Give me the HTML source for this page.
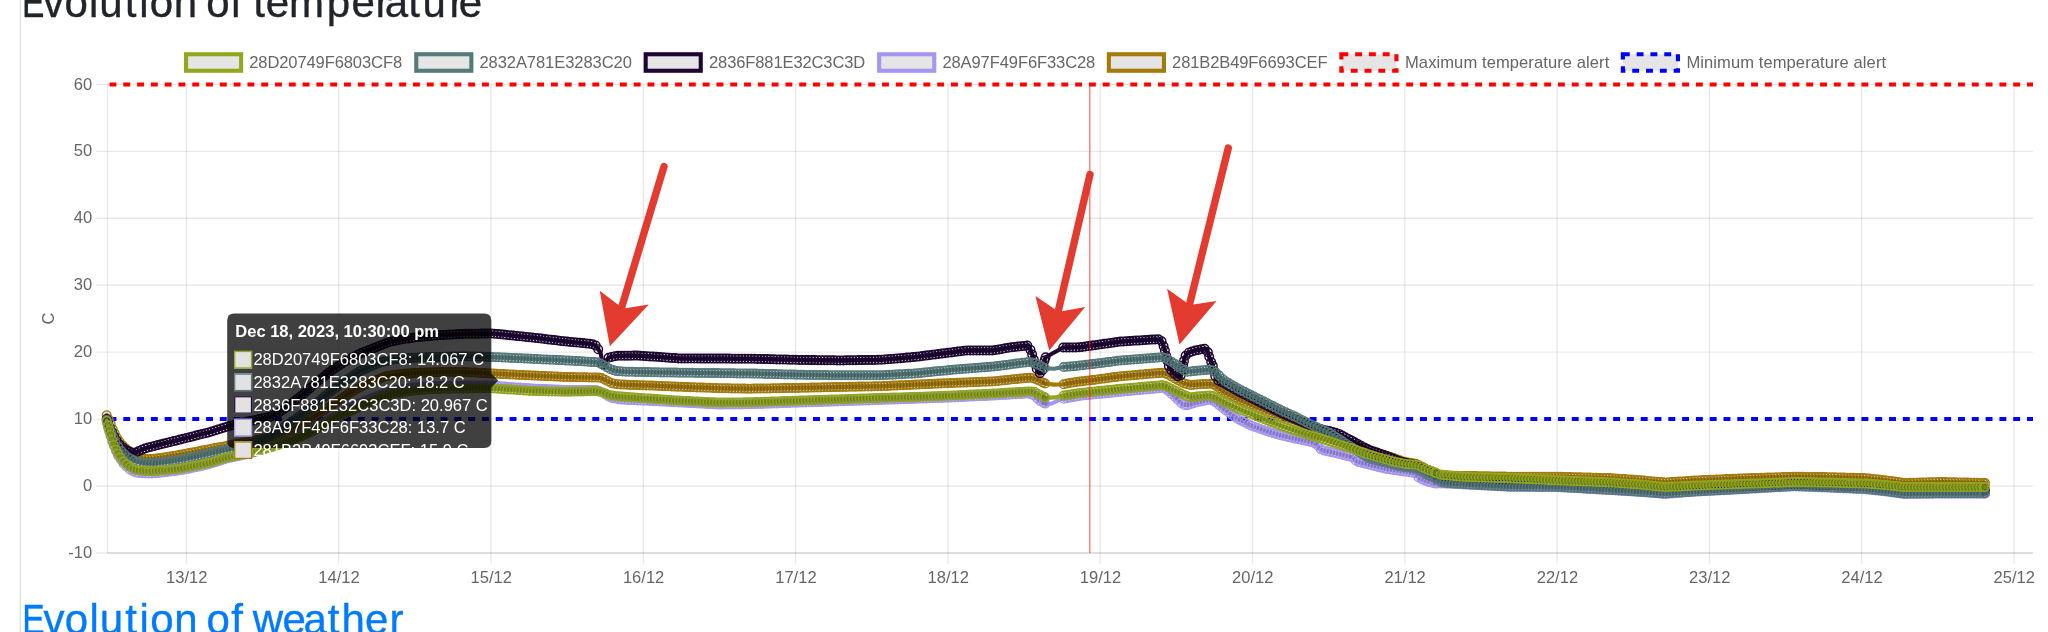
<!DOCTYPE html>
<html lang="en"><head><meta charset="utf-8"><title>Evolution of temperature</title>
<style>
html,body{margin:0;padding:0;background:#fff;}
body{width:2048px;height:632px;overflow:hidden;position:relative;font-family:"Liberation Sans",sans-serif;}
svg{position:absolute;left:0;top:0;display:block;will-change:transform;}
svg text{font-family:"Liberation Sans",sans-serif;}
.h{position:absolute;margin:0;white-space:nowrap;font-weight:400;font-family:"Liberation Sans",sans-serif;line-height:1;will-change:transform;}
</style></head><body>
<svg width="2048" height="632" viewBox="0 0 2048 632">
<defs>
<marker id="m_green" markerUnits="userSpaceOnUse" markerWidth="12" markerHeight="12" refX="6" refY="6" viewBox="0 0 12 12" overflow="visible"><circle cx="6" cy="6" r="4.3" fill="#000" fill-opacity="0.1" stroke="#93a71d" stroke-width="1.38"/></marker>
<marker id="m_teal" markerUnits="userSpaceOnUse" markerWidth="12" markerHeight="12" refX="6" refY="6" viewBox="0 0 12 12" overflow="visible"><circle cx="6" cy="6" r="4.3" fill="#000" fill-opacity="0.1" stroke="#567a7c" stroke-width="1.38"/></marker>
<marker id="m_dark" markerUnits="userSpaceOnUse" markerWidth="12" markerHeight="12" refX="6" refY="6" viewBox="0 0 12 12" overflow="visible"><circle cx="6" cy="6" r="4.3" fill="#000" fill-opacity="0.1" stroke="#1e0533" stroke-width="1.38"/></marker>
<marker id="m_lav" markerUnits="userSpaceOnUse" markerWidth="12" markerHeight="12" refX="6" refY="6" viewBox="0 0 12 12" overflow="visible"><circle cx="6" cy="6" r="4.3" fill="#000" fill-opacity="0.1" stroke="#a795f4" stroke-width="1.38"/></marker>
<marker id="m_gold" markerUnits="userSpaceOnUse" markerWidth="12" markerHeight="12" refX="6" refY="6" viewBox="0 0 12 12" overflow="visible"><circle cx="6" cy="6" r="4.3" fill="#000" fill-opacity="0.1" stroke="#a67a0a" stroke-width="1.38"/></marker>
<clipPath id="tipclip"><rect x="227.2" y="313.4" width="264.1" height="134.7"/></clipPath>
</defs>
<rect x="19.6" y="0" width="1.3" height="632" fill="#dedede"/>
<g stroke="#000" stroke-opacity="0.088" stroke-width="1.4" fill="none">
<line x1="96.3" y1="84.4" x2="2033.0" y2="84.4"/>
<line x1="96.3" y1="151.35" x2="2033.0" y2="151.35"/>
<line x1="96.3" y1="218.3" x2="2033.0" y2="218.3"/>
<line x1="96.3" y1="285.2" x2="2033.0" y2="285.2"/>
<line x1="96.3" y1="352.15" x2="2033.0" y2="352.15"/>
<line x1="96.3" y1="419.1" x2="2033.0" y2="419.1"/>
<line x1="96.3" y1="486.0" x2="2033.0" y2="486.0"/>
<line x1="96.3" y1="553.0" x2="2033.0" y2="553.0"/>
<line x1="186.4" y1="84.4" x2="186.4" y2="563.8"/>
<line x1="338.7" y1="84.4" x2="338.7" y2="563.8"/>
<line x1="491.0" y1="84.4" x2="491.0" y2="563.8"/>
<line x1="643.3" y1="84.4" x2="643.3" y2="563.8"/>
<line x1="795.6" y1="84.4" x2="795.6" y2="563.8"/>
<line x1="947.9" y1="84.4" x2="947.9" y2="563.8"/>
<line x1="1100.2" y1="84.4" x2="1100.2" y2="563.8"/>
<line x1="1252.5" y1="84.4" x2="1252.5" y2="563.8"/>
<line x1="1404.8" y1="84.4" x2="1404.8" y2="563.8"/>
<line x1="1557.1" y1="84.4" x2="1557.1" y2="563.8"/>
<line x1="1709.4" y1="84.4" x2="1709.4" y2="563.8"/>
<line x1="1861.7" y1="84.4" x2="1861.7" y2="563.8"/>
<line x1="2014.0" y1="84.4" x2="2014.0" y2="563.8"/>
</g>
<line x1="107.5" y1="84.4" x2="107.5" y2="553.0" stroke="#000" stroke-opacity="0.08" stroke-width="1.4"/>
<line x1="107.5" y1="553.0" x2="2033.0" y2="553.0" stroke="#000" stroke-opacity="0.1" stroke-width="1.4"/>
<line x1="109.5" y1="419.0" x2="2033.0" y2="419.0" stroke="#0000ff" stroke-width="4.2" stroke-dasharray="6.9 6.895"/>
<line x1="109.5" y1="84.5" x2="2033.0" y2="84.5" stroke="#ff0000" stroke-width="4.2" stroke-dasharray="6.9 6.895"/>
<polyline points="106.7,415.2 109.0,420.0 113.0,430.0 118.0,440.0 124.0,447.0 130.0,452.0 136.0,456.0 142.0,458.7 153.0,459.0 170.0,456.5 190.0,453.0 210.0,449.0 232.0,444.9 255.0,440.5 277.0,435.5 290.0,430.0 302.0,424.0 314.9,416.0 330.0,406.5 349.4,393.0 365.0,384.5 386.6,376.0 403.0,373.8 420.0,372.8 441.0,372.0 465.0,372.0 492.0,373.5 532.0,375.5 567.0,377.0 597.0,377.5 601.3,377.8 606.0,380.3 611.0,382.8 615.5,384.0 625.0,384.7 650.0,385.5 680.0,386.8 720.0,388.2 750.0,388.7 802.0,387.8 840.0,387.0 880.0,386.2 950.0,383.1 993.0,381.4 1029.0,377.7 1034.0,378.3 1040.0,381.0 1045.0,383.5 1054.0,384.6 1063.7,384.3 1070.0,383.0 1080.0,381.5 1090.0,380.4 1121.0,376.2 1162.0,372.8 1166.0,373.5 1175.0,378.5 1183.0,383.0 1190.0,385.1 1200.0,384.3 1209.6,383.7 1214.0,384.5 1224.2,392.0 1238.5,399.3 1252.5,405.3 1267.0,411.3 1281.2,417.3 1295.5,422.8 1309.7,427.8 1324.0,432.8 1338.2,438.3 1352.0,444.0 1373.0,451.5 1393.5,458.0 1405.0,462.0 1415.5,463.6 1421.0,466.0 1426.6,469.4 1435.4,472.7 1438.5,474.8 1442.0,475.4 1445.0,475.6 1510.0,476.7 1557.0,476.7 1611.7,478.2 1640.0,480.2 1664.6,482.5 1680.0,481.5 1695.0,480.5 1740.0,478.5 1795.0,476.7 1830.0,477.2 1866.0,478.2 1885.0,480.2 1904.0,483.0 1942.0,482.0 1985.0,483.0" fill="none" stroke="#a67a0a" stroke-width="4.14" stroke-linejoin="round" stroke-linecap="round"/>
<polyline points="106.7,415.2 108.7,419.4 110.8,424.4 112.8,429.5 114.8,433.6 116.9,437.7 119.4,441.6 122.6,445.3 125.7,448.4 128.9,451.1 132.1,453.4 135.3,455.5 138.4,457.1 141.6,458.5 144.8,458.8 147.9,458.9 151.1,458.9 154.3,458.8 157.5,458.3 160.6,457.9 163.8,457.4 167.0,456.9 170.2,456.5 173.3,455.9 176.5,455.4 179.7,454.8 182.9,454.3 186.0,453.7 189.2,453.1 192.4,452.5 195.5,451.9 198.7,451.3 201.9,450.6 205.1,450.0 208.2,449.4 211.4,448.7 214.6,448.1 217.8,447.6 220.9,447.0 224.1,446.4 227.3,445.8 230.4,445.2 233.6,444.6 236.8,444.0 240.0,443.4 243.1,442.8 246.3,442.2 249.5,441.6 252.7,440.9 255.8,440.3 259.0,439.6 262.2,438.9 265.4,438.1 268.5,437.4 271.7,436.7 274.9,436.0 278.0,435.1 281.2,433.7 284.4,432.4 287.6,431.0 290.7,429.6 293.9,428.0 297.1,426.5 300.3,424.9 303.4,423.1 306.6,421.1 309.8,419.2 312.9,417.2 316.1,415.2 319.3,413.2 322.5,411.2 325.6,409.2 328.8,407.2 332.0,405.1 335.2,402.9 338.3,400.7 341.5,398.5 344.7,396.3 347.8,394.1 351.0,392.1 354.2,390.4 357.4,388.7 360.5,386.9 363.7,385.2 366.9,383.8 370.1,382.5 373.2,381.3 376.4,380.0 379.6,378.8 382.8,377.5 385.9,376.3 389.1,375.7 392.3,375.2 395.4,374.8 398.6,374.4 401.8,374.0 405.0,373.7 408.1,373.5 411.3,373.3 414.5,373.1 417.7,372.9 420.8,372.8 424.0,372.6 427.2,372.5 430.3,372.4 433.5,372.3 436.7,372.2 439.9,372.0 443.0,372.0 446.2,372.0 449.4,372.0 452.6,372.0 455.7,372.0 458.9,372.0 462.1,372.0 465.2,372.0 468.4,372.2 471.6,372.4 474.8,372.5 477.9,372.7 481.1,372.9 484.3,373.1 487.5,373.2 490.6,373.4 493.8,373.6 497.0,373.7 500.2,373.9 503.3,374.1 506.5,374.2 509.7,374.4 512.8,374.5 516.0,374.7 519.2,374.9 522.4,375.0 525.5,375.2 528.7,375.3 531.9,375.5 535.1,375.6 538.2,375.8 541.4,375.9 544.6,376.0 547.7,376.2 550.9,376.3 554.1,376.4 557.3,376.6 560.4,376.7 563.6,376.9 566.8,377.0 570.0,377.0 573.1,377.1 576.3,377.2 579.5,377.2 582.7,377.3 585.8,377.3 589.0,377.4 592.2,377.4 595.3,377.5 598.5,377.6 601.7,378.0 604.9,379.7 608.0,381.3 611.2,382.9 614.4,383.7 617.6,384.2 620.7,384.4 623.9,384.6 627.1,384.8 630.2,384.9 633.4,385.0 636.6,385.1 639.8,385.2 642.9,385.3 646.1,385.4 649.3,385.5 652.5,385.6 655.6,385.7 658.8,385.9 662.0,386.0 665.1,386.2 668.3,386.3 671.5,386.4 674.7,386.6 677.8,386.7 681.0,386.8 684.2,386.9 687.4,387.1 690.5,387.2 693.7,387.3 696.9,387.4 700.1,387.5 703.2,387.6 706.4,387.7 709.6,387.8 712.7,387.9 715.9,388.1 719.1,388.2 722.3,388.2 725.4,388.3 728.6,388.3 731.8,388.4 735.0,388.4 738.1,388.5 741.3,388.6 744.5,388.6 747.6,388.7 750.8,388.7 754.0,388.6 757.2,388.6 760.3,388.5 763.5,388.5 766.7,388.4 769.9,388.4 773.0,388.3 776.2,388.2 779.4,388.2 782.5,388.1 785.7,388.1 788.9,388.0 792.1,388.0 795.2,387.9 798.4,387.9 801.6,387.8 804.8,387.7 807.9,387.7 811.1,387.6 814.3,387.5 817.5,387.5 820.6,387.4 823.8,387.3 827.0,387.3 830.1,387.2 833.3,387.1 836.5,387.1 839.7,387.0 842.8,386.9 846.0,386.9 849.2,386.8 852.4,386.8 855.5,386.7 858.7,386.6 861.9,386.6 865.0,386.5 868.2,386.4 871.4,386.4 874.6,386.3 877.7,386.2 880.9,386.2 884.1,386.0 887.3,385.9 890.4,385.7 893.6,385.6 896.8,385.5 900.0,385.3 903.1,385.2 906.3,385.0 909.5,384.9 912.6,384.8 915.8,384.6 919.0,384.5 922.2,384.3 925.3,384.2 928.5,384.1 931.7,383.9 934.9,383.8 938.0,383.6 941.2,383.5 944.4,383.3 947.5,383.2 950.7,383.1 953.9,382.9 957.1,382.8 960.2,382.7 963.4,382.6 966.6,382.4 969.8,382.3 972.9,382.2 976.1,382.1 979.3,381.9 982.4,381.8 985.6,381.7 988.8,381.6 992.0,381.4 995.1,381.2 998.3,380.9 1001.5,380.5 1004.7,380.2 1007.8,379.9 1011.0,379.5 1014.2,379.2 1017.4,378.9 1020.5,378.6 1023.7,378.2 1026.9,377.9 1030.0,377.8 1033.2,378.2 1036.4,379.4 1039.6,380.8 1042.7,382.4 1045.2,383.5" fill="none" stroke="none" marker-start="url(#m_gold)" marker-mid="url(#m_gold)" marker-end="url(#m_gold)"/>
<polyline points="1063.7,384.3 1066.9,383.6 1070.0,383.0 1073.2,382.5 1076.4,382.0 1079.6,381.6 1082.7,381.2 1085.9,380.8 1089.1,380.5 1092.3,380.1 1095.4,379.7 1098.6,379.2 1101.8,378.8 1104.9,378.4 1108.1,377.9 1111.3,377.5 1114.5,377.1 1117.6,376.7 1120.8,376.2 1124.0,376.0 1127.2,375.7 1130.3,375.4 1133.5,375.2 1136.7,374.9 1139.9,374.6 1143.0,374.4 1146.2,374.1 1149.4,373.8 1152.5,373.6 1155.7,373.3 1158.9,373.1 1162.1,372.8 1165.2,373.4 1168.4,374.8 1171.6,376.6 1174.8,378.4 1177.9,380.1 1181.1,381.9 1184.3,383.4 1187.4,384.3 1190.6,385.1 1193.8,384.8 1197.0,384.5 1200.1,384.3 1203.3,384.1 1206.5,383.9 1209.7,383.7 1212.8,384.3 1216.0,386.0 1219.2,388.3 1222.4,390.6 1225.5,392.7 1228.7,394.3 1231.9,395.9 1235.0,397.5 1238.2,399.2 1241.4,400.5 1244.6,401.9 1247.7,403.3 1250.9,404.6 1254.1,406.0 1257.3,407.3 1260.4,408.6 1263.6,409.9 1266.8,411.2 1269.9,412.5 1273.1,413.9 1276.3,415.2 1279.5,416.6 1282.6,417.9 1285.8,419.1 1289.0,420.3 1292.2,421.5 1295.3,422.7 1298.5,423.9 1301.7,425.0 1304.8,426.1 1308.0,427.2 1311.2,428.3 1314.4,429.4 1317.5,430.5 1320.7,431.7 1323.9,432.8 1327.1,434.0 1330.2,435.2 1333.4,436.4 1336.6,437.7 1339.8,438.9 1342.9,440.3 1346.1,441.6 1349.3,442.9 1352.4,444.2 1355.6,445.3 1358.8,446.4 1362.0,447.6 1365.1,448.7 1368.3,449.8 1371.5,451.0 1374.7,452.0 1377.8,453.0 1381.0,454.0 1384.2,455.0 1387.3,456.0 1390.5,457.1 1393.7,458.1 1396.9,459.2 1400.0,460.3 1403.2,461.4 1406.4,462.2 1409.6,462.7 1412.7,463.2 1415.9,463.8 1419.1,465.2 1422.2,466.8 1425.4,468.7 1428.6,470.1 1431.8,471.3 1434.9,472.5 1436.4,473.4" fill="none" stroke="none" marker-start="url(#m_gold)" marker-mid="url(#m_gold)" marker-end="url(#m_gold)"/>
<polyline points="1440.8,475.2 1444.0,475.5 1447.1,475.6 1450.3,475.7 1453.5,475.7 1456.7,475.8 1459.8,475.9 1463.0,475.9 1466.2,476.0 1469.4,476.0 1472.5,476.1 1475.7,476.1 1478.9,476.2 1482.0,476.2 1485.2,476.3 1488.4,476.3 1491.6,476.4 1494.7,476.4 1497.9,476.5 1501.1,476.5 1504.3,476.6 1507.4,476.7 1510.6,476.7 1513.8,476.7 1517.0,476.7 1520.1,476.7 1523.3,476.7 1526.5,476.7 1529.6,476.7 1532.8,476.7 1536.0,476.7 1539.2,476.7 1542.3,476.7 1545.5,476.7 1548.7,476.7 1551.9,476.7 1555.0,476.7 1558.2,476.7 1561.4,476.8 1564.5,476.9 1567.7,477.0 1570.9,477.1 1574.1,477.2 1577.2,477.3 1580.4,477.3 1583.6,477.4 1586.8,477.5 1589.9,477.6 1593.1,477.7 1596.3,477.8 1599.5,477.9 1602.6,478.0 1605.8,478.0 1609.0,478.1 1612.1,478.2 1615.3,478.5 1618.5,478.7 1621.7,478.9 1624.8,479.1 1628.0,479.4 1631.2,479.6 1634.4,479.8 1637.5,480.0 1640.7,480.3 1643.9,480.6 1647.0,480.9 1650.2,481.2 1653.4,481.5 1656.6,481.7 1659.7,482.0 1662.9,482.3 1666.1,482.4 1669.3,482.2 1672.4,482.0 1675.6,481.8 1678.8,481.6 1681.9,481.4 1685.1,481.2 1688.3,480.9 1691.5,480.7 1694.6,480.5 1697.8,480.4 1701.0,480.2 1704.2,480.1 1707.3,480.0 1710.5,479.8 1713.7,479.7 1716.9,479.5 1720.0,479.4 1723.2,479.2 1726.4,479.1 1729.5,479.0 1732.7,478.8 1735.9,478.7 1739.1,478.5 1742.2,478.4 1745.4,478.3 1748.6,478.2 1751.8,478.1 1754.9,478.0 1758.1,477.9 1761.3,477.8 1764.4,477.7 1767.6,477.6 1770.8,477.5 1774.0,477.4 1777.1,477.3 1780.3,477.2 1783.5,477.1 1786.7,477.0 1789.8,476.9 1793.0,476.8 1796.2,476.7 1799.3,476.8 1802.5,476.8 1805.7,476.9 1808.9,476.9 1812.0,476.9 1815.2,477.0 1818.4,477.0 1821.6,477.1 1824.7,477.1 1827.9,477.2 1831.1,477.2 1834.3,477.3 1837.4,477.4 1840.6,477.5 1843.8,477.6 1846.9,477.7 1850.1,477.8 1853.3,477.8 1856.5,477.9 1859.6,478.0 1862.8,478.1 1866.0,478.2 1869.2,478.5 1872.3,478.9 1875.5,479.2 1878.7,479.5 1881.8,479.9 1885.0,480.2 1888.2,480.7 1891.4,481.1 1894.5,481.6 1897.7,482.1 1900.9,482.5 1904.1,483.0 1907.2,482.9 1910.4,482.8 1913.6,482.7 1916.8,482.7 1919.9,482.6 1923.1,482.5 1926.3,482.4 1929.4,482.3 1932.6,482.2 1935.8,482.2 1939.0,482.1 1942.1,482.0 1945.3,482.1 1948.5,482.2 1951.7,482.2 1954.8,482.3 1958.0,482.4 1961.2,482.4 1964.3,482.5 1967.5,482.6 1970.7,482.7 1973.9,482.7 1977.0,482.8 1980.2,482.9 1983.4,483.0 1985.0,483.0" fill="none" stroke="none" marker-start="url(#m_gold)" marker-mid="url(#m_gold)" marker-end="url(#m_gold)"/>
<polyline points="106.7,423.0 112.0,441.0 118.0,455.5 124.0,464.3 130.0,469.7 136.0,472.6 145.0,473.5 153.0,473.4 165.0,472.3 181.5,470.2 195.0,467.4 210.0,464.0 226.0,458.8 250.0,453.5 271.0,447.0 285.0,442.0 295.4,437.5 310.0,430.5 325.0,422.0 340.6,413.0 355.0,405.5 370.9,398.5 381.2,394.8 395.0,390.5 410.0,388.0 433.0,386.3 471.0,385.5 491.0,385.5 532.0,388.5 567.0,390.0 597.0,390.0 603.0,393.0 610.0,397.5 620.0,399.5 640.0,400.5 680.0,402.5 720.0,404.6 750.0,404.3 802.0,402.5 880.0,400.0 950.0,397.6 993.0,395.6 1028.0,393.5 1033.0,394.5 1040.0,401.0 1046.0,404.0 1052.0,403.5 1060.0,399.5 1080.0,395.8 1121.0,391.8 1162.0,388.0 1166.0,389.0 1175.0,397.0 1183.0,404.7 1187.0,405.3 1198.0,402.0 1209.6,399.5 1214.0,401.0 1224.2,409.3 1238.5,419.5 1252.5,426.2 1267.0,431.2 1281.2,435.5 1295.5,438.7 1309.7,441.7 1316.5,443.7 1319.3,448.5 1324.0,450.6 1337.5,453.5 1353.3,457.5 1356.5,461.5 1369.0,464.7 1385.0,468.6 1400.8,471.0 1416.6,473.4 1419.0,478.3 1427.7,481.6 1435.6,483.6 1442.0,483.4 1470.0,484.8 1510.0,486.9 1557.0,487.2 1611.7,490.3 1640.0,492.0 1664.6,494.0 1680.0,492.9 1695.0,491.8 1740.0,489.4 1770.0,487.7 1795.0,486.4 1830.0,487.7 1866.0,489.4 1885.0,491.4 1904.0,494.0 1942.0,493.7 1985.0,493.7" fill="none" stroke="#a795f4" stroke-width="4.14" stroke-linejoin="round" stroke-linecap="round"/>
<polyline points="106.7,423.0 108.0,427.4 109.3,431.8 110.6,436.2 112.2,441.5 114.3,446.4 116.3,451.4 118.3,456.0 120.9,459.7 123.4,463.4 126.6,466.6 129.7,469.5 132.9,471.1 136.1,472.6 139.3,472.9 142.4,473.2 145.6,473.5 148.8,473.5 151.9,473.4 155.1,473.2 158.3,472.9 161.5,472.6 164.6,472.3 167.8,471.9 171.0,471.5 174.2,471.1 177.3,470.7 180.5,470.3 183.7,469.7 186.9,469.1 190.0,468.4 193.2,467.8 196.4,467.1 199.5,466.4 202.7,465.7 205.9,464.9 209.1,464.2 212.2,463.3 215.4,462.2 218.6,461.2 221.8,460.2 224.9,459.1 228.1,458.3 231.3,457.6 234.4,456.9 237.6,456.2 240.8,455.5 244.0,454.8 247.1,454.1 250.3,453.4 253.5,452.4 256.7,451.4 259.8,450.5 263.0,449.5 266.2,448.5 269.4,447.5 272.5,446.5 275.7,445.3 278.9,444.2 282.0,443.1 285.2,441.9 288.4,440.5 291.6,439.2 294.7,437.8 297.9,436.3 301.1,434.8 304.3,433.3 307.4,431.7 310.6,430.2 313.8,428.4 316.9,426.6 320.1,424.8 323.3,423.0 326.5,421.2 329.6,419.3 332.8,417.5 336.0,415.7 339.2,413.8 342.3,412.1 345.5,410.4 348.7,408.8 351.8,407.1 355.0,405.5 358.2,404.1 361.4,402.7 364.5,401.3 367.7,399.9 370.9,398.5 374.1,397.4 377.2,396.2 380.4,395.1 383.6,394.1 386.8,393.1 389.9,392.1 393.1,391.1 396.3,390.3 399.4,389.8 402.6,389.2 405.8,388.7 409.0,388.2 412.1,387.8 415.3,387.6 418.5,387.4 421.7,387.1 424.8,386.9 428.0,386.7 431.2,386.4 434.3,386.3 437.5,386.2 440.7,386.1 443.9,386.1 447.0,386.0 450.2,385.9 453.4,385.9 456.6,385.8 459.7,385.7 462.9,385.7 466.1,385.6 469.2,385.5 472.4,385.5 475.6,385.5 478.8,385.5 481.9,385.5 485.1,385.5 488.3,385.5 491.5,385.5 494.6,385.8 497.8,386.0 501.0,386.2 504.2,386.5 507.3,386.7 510.5,386.9 513.7,387.2 516.8,387.4 520.0,387.6 523.2,387.9 526.4,388.1 529.5,388.3 532.7,388.5 535.9,388.7 539.1,388.8 542.2,388.9 545.4,389.1 548.6,389.2 551.7,389.3 554.9,389.5 558.1,389.6 561.3,389.8 564.4,389.9 567.6,390.0 570.8,390.0 574.0,390.0 577.1,390.0 580.3,390.0 583.5,390.0 586.7,390.0 589.8,390.0 593.0,390.0 596.2,390.0 599.3,391.2 602.5,392.8 605.7,394.7 608.9,396.8 612.0,397.9 615.2,398.5 618.4,399.2 621.6,399.6 624.7,399.7 627.9,399.9 631.1,400.1 634.2,400.2 637.4,400.4 640.6,400.5 643.8,400.7 646.9,400.8 650.1,401.0 653.3,401.2 656.5,401.3 659.6,401.5 662.8,401.6 666.0,401.8 669.1,402.0 672.3,402.1 675.5,402.3 678.7,402.4 681.8,402.6 685.0,402.8 688.2,402.9 691.4,403.1 694.5,403.3 697.7,403.4 700.9,403.6 704.1,403.8 707.2,403.9 710.4,404.1 713.6,404.3 716.7,404.4 719.9,404.6 723.1,404.6 726.3,404.5 729.4,404.5 732.6,404.5 735.8,404.4 739.0,404.4 742.1,404.4 745.3,404.3 748.5,404.3 751.6,404.2 754.8,404.1 758.0,404.0 761.2,403.9 764.3,403.8 767.5,403.7 770.7,403.6 773.9,403.5 777.0,403.4 780.2,403.3 783.4,403.1 786.5,403.0 789.7,402.9 792.9,402.8 796.1,402.7 799.2,402.6 802.4,402.5 805.6,402.4 808.8,402.3 811.9,402.2 815.1,402.1 818.3,402.0 821.5,401.9 824.6,401.8 827.8,401.7 831.0,401.6 834.1,401.5 837.3,401.4 840.5,401.3 843.7,401.2 846.8,401.1 850.0,401.0 853.2,400.9 856.4,400.8 859.5,400.7 862.7,400.6 865.9,400.5 869.0,400.4 872.2,400.2 875.4,400.1 878.6,400.0 881.7,399.9 884.9,399.8 888.1,399.7 891.3,399.6 894.4,399.5 897.6,399.4 900.8,399.3 904.0,399.2 907.1,399.1 910.3,399.0 913.5,398.9 916.6,398.7 919.8,398.6 923.0,398.5 926.2,398.4 929.3,398.3 932.5,398.2 935.7,398.1 938.9,398.0 942.0,397.9 945.2,397.8 948.4,397.7 951.5,397.5 954.7,397.4 957.9,397.2 961.1,397.1 964.2,396.9 967.4,396.8 970.6,396.6 973.8,396.5 976.9,396.3 980.1,396.2 983.3,396.1 986.4,395.9 989.6,395.8 992.8,395.6 996.0,395.4 999.1,395.2 1002.3,395.0 1005.5,394.9 1008.7,394.7 1011.8,394.5 1015.0,394.3 1018.2,394.1 1021.4,393.9 1024.5,393.7 1027.7,393.5 1030.9,394.1 1034.0,395.5 1037.2,398.4 1040.4,401.2 1043.6,402.8 1045.2,403.6" fill="none" stroke="none" marker-start="url(#m_lav)" marker-mid="url(#m_lav)" marker-end="url(#m_lav)"/>
<polyline points="1063.7,398.8 1066.9,398.2 1070.0,397.6 1073.2,397.1 1076.4,396.5 1079.6,395.9 1082.7,395.5 1085.9,395.2 1089.1,394.9 1092.3,394.6 1095.4,394.3 1098.6,394.0 1101.8,393.7 1104.9,393.4 1108.1,393.1 1111.3,392.7 1114.5,392.4 1117.6,392.1 1120.8,391.8 1124.0,391.5 1127.2,391.2 1130.3,390.9 1133.5,390.6 1136.7,390.3 1139.9,390.1 1143.0,389.8 1146.2,389.5 1149.4,389.2 1152.5,388.9 1155.7,388.6 1158.9,388.3 1162.1,388.0 1165.2,388.8 1168.4,391.1 1171.6,394.0 1174.8,396.8 1177.9,399.8 1181.1,402.9 1184.3,404.9 1187.4,405.2 1190.6,404.2 1193.8,403.3 1197.0,402.3 1200.1,401.5 1203.3,400.9 1206.5,400.2 1209.7,399.5 1212.8,400.6 1216.0,402.6 1219.2,405.2 1222.4,407.8 1225.5,410.2 1228.7,412.5 1231.9,414.8 1235.0,417.0 1238.2,419.3 1241.4,420.9 1244.6,422.4 1247.7,423.9 1250.9,425.4 1254.1,426.7 1257.3,427.8 1260.4,428.9 1263.6,430.0 1266.8,431.1 1269.9,432.1 1273.1,433.1 1276.3,434.0 1279.5,435.0 1282.6,435.8 1285.8,436.5 1289.0,437.2 1292.2,438.0 1295.3,438.7 1298.5,439.3 1301.7,440.0 1304.8,440.7 1308.0,441.3 1311.2,442.1 1314.4,443.1 1317.5,445.5 1320.7,449.1 1323.9,450.5 1327.1,451.3 1330.2,451.9 1333.4,452.6 1336.6,453.3 1339.8,454.1 1342.9,454.9 1346.1,455.7 1349.3,456.5 1352.4,457.3 1355.6,460.4 1358.8,462.1 1362.0,462.9 1365.1,463.7 1368.3,464.5 1371.5,465.3 1374.7,466.1 1377.8,466.9 1381.0,467.6 1384.2,468.4 1387.3,469.0 1390.5,469.4 1393.7,469.9 1396.9,470.4 1400.0,470.9 1403.2,471.4 1406.4,471.8 1409.6,472.3 1412.7,472.8 1415.9,473.3 1418.4,477.2 1421.6,479.3 1424.8,480.5 1428.0,481.7 1431.1,482.5 1434.3,483.3 1436.4,483.6" fill="none" stroke="none" marker-start="url(#m_lav)" marker-mid="url(#m_lav)" marker-end="url(#m_lav)"/>
<polyline points="1440.8,483.4 1444.0,483.5 1447.1,483.7 1450.3,483.8 1453.5,484.0 1456.7,484.1 1459.8,484.3 1463.0,484.5 1466.2,484.6 1469.4,484.8 1472.5,484.9 1475.7,485.1 1478.9,485.3 1482.0,485.4 1485.2,485.6 1488.4,485.8 1491.6,485.9 1494.7,486.1 1497.9,486.3 1501.1,486.4 1504.3,486.6 1507.4,486.8 1510.6,486.9 1513.8,486.9 1517.0,486.9 1520.1,487.0 1523.3,487.0 1526.5,487.0 1529.6,487.0 1532.8,487.0 1536.0,487.1 1539.2,487.1 1542.3,487.1 1545.5,487.1 1548.7,487.1 1551.9,487.2 1555.0,487.2 1558.2,487.3 1561.4,487.4 1564.5,487.6 1567.7,487.8 1570.9,488.0 1574.1,488.2 1577.2,488.3 1580.4,488.5 1583.6,488.7 1586.8,488.9 1589.9,489.1 1593.1,489.2 1596.3,489.4 1599.5,489.6 1602.6,489.8 1605.8,490.0 1609.0,490.1 1612.1,490.3 1615.3,490.5 1618.5,490.7 1621.7,490.9 1624.8,491.1 1628.0,491.3 1631.2,491.5 1634.4,491.7 1637.5,491.9 1640.7,492.1 1643.9,492.3 1647.0,492.6 1650.2,492.8 1653.4,493.1 1656.6,493.3 1659.7,493.6 1662.9,493.9 1666.1,493.9 1669.3,493.7 1672.4,493.4 1675.6,493.2 1678.8,493.0 1681.9,492.8 1685.1,492.5 1688.3,492.3 1691.5,492.1 1694.6,491.8 1697.8,491.6 1701.0,491.5 1704.2,491.3 1707.3,491.1 1710.5,491.0 1713.7,490.8 1716.9,490.6 1720.0,490.5 1723.2,490.3 1726.4,490.1 1729.5,490.0 1732.7,489.8 1735.9,489.6 1739.1,489.5 1742.2,489.3 1745.4,489.1 1748.6,488.9 1751.8,488.7 1754.9,488.6 1758.1,488.4 1761.3,488.2 1764.4,488.0 1767.6,487.8 1770.8,487.7 1774.0,487.5 1777.1,487.3 1780.3,487.2 1783.5,487.0 1786.7,486.8 1789.8,486.7 1793.0,486.5 1796.2,486.4 1799.3,486.6 1802.5,486.7 1805.7,486.8 1808.9,486.9 1812.0,487.0 1815.2,487.2 1818.4,487.3 1821.6,487.4 1824.7,487.5 1827.9,487.6 1831.1,487.8 1834.3,487.9 1837.4,488.1 1840.6,488.2 1843.8,488.4 1846.9,488.5 1850.1,488.6 1853.3,488.8 1856.5,488.9 1859.6,489.1 1862.8,489.2 1866.0,489.4 1869.2,489.7 1872.3,490.1 1875.5,490.4 1878.7,490.7 1881.8,491.1 1885.0,491.4 1888.2,491.8 1891.4,492.3 1894.5,492.7 1897.7,493.1 1900.9,493.6 1904.1,494.0 1907.2,494.0 1910.4,493.9 1913.6,493.9 1916.8,493.9 1919.9,493.9 1923.1,493.8 1926.3,493.8 1929.4,493.8 1932.6,493.8 1935.8,493.7 1939.0,493.7 1942.1,493.7 1945.3,493.7 1948.5,493.7 1951.7,493.7 1954.8,493.7 1958.0,493.7 1961.2,493.7 1964.3,493.7 1967.5,493.7 1970.7,493.7 1973.9,493.7 1977.0,493.7 1980.2,493.7 1983.4,493.7 1985.0,493.7" fill="none" stroke="none" marker-start="url(#m_lav)" marker-mid="url(#m_lav)" marker-end="url(#m_lav)"/>
<polyline points="106.7,419.0 110.0,428.0 115.0,438.0 120.0,445.0 126.0,450.0 133.7,453.4 140.0,450.5 146.0,448.0 153.0,446.3 165.0,443.3 181.5,439.2 195.0,435.8 210.0,432.0 226.0,427.0 250.0,421.0 262.0,418.5 272.9,416.0 282.0,410.5 290.0,404.5 297.0,399.0 304.6,393.0 313.0,385.5 322.0,378.0 330.9,371.0 345.0,361.5 360.0,353.5 379.1,346.0 390.0,341.8 403.3,339.1 420.0,336.8 441.3,335.0 465.0,333.8 492.2,333.5 532.2,337.5 567.0,341.6 590.0,343.8 593.5,344.5 595.6,345.5 597.5,348.0 599.0,350.5 600.5,352.3 602.8,364.5 608.5,357.8 610.0,357.3 613.0,356.5 617.4,355.8 636.7,355.6 660.0,357.0 680.0,358.5 749.6,358.7 801.8,360.0 840.0,360.4 880.0,359.8 914.8,357.0 949.6,352.6 967.0,350.4 993.1,350.4 1010.5,347.4 1028.5,345.4 1030.0,348.5 1031.5,352.5 1033.0,357.0 1034.5,362.0 1036.0,367.0 1037.5,371.0 1039.0,373.0 1040.5,373.4 1042.0,372.0 1043.3,366.0 1044.6,360.0 1045.6,357.3 1063.2,347.5 1070.0,347.5 1080.0,347.3 1121.0,341.5 1159.5,339.2 1162.3,342.0 1163.8,347.0 1165.2,351.6 1167.0,359.0 1169.0,366.7 1172.8,372.4 1177.5,376.2 1180.4,376.7 1182.5,369.0 1184.2,360.0 1184.7,357.3 1186.5,354.4 1189.8,352.0 1194.6,350.6 1199.3,349.7 1205.0,348.7 1207.0,348.7 1207.9,352.5 1209.3,357.3 1210.7,361.0 1212.6,364.8 1214.5,374.0 1216.0,378.5 1218.3,380.5 1224.2,383.5 1238.5,391.6 1252.5,398.6 1267.0,405.8 1281.2,413.0 1295.5,419.3 1309.7,425.3 1320.0,429.0 1331.0,431.5 1338.2,433.5 1353.3,441.5 1369.0,449.9 1385.0,455.4 1400.8,461.7 1416.6,465.0 1427.7,470.0 1435.6,474.5 1442.0,479.0 1470.0,481.0 1510.0,482.5 1557.0,483.5 1611.7,486.2 1664.6,490.3 1695.0,488.5 1740.0,486.5 1795.0,484.0 1866.0,486.3 1904.0,490.3 1942.0,490.2 1985.0,490.2" fill="none" stroke="#1e0533" stroke-width="4.14" stroke-linejoin="round" stroke-linecap="round"/>
<polyline points="106.7,419.0 108.3,423.4 109.9,427.9 112.0,432.0 114.0,436.0 116.5,440.2 119.7,444.6 122.9,447.4 126.1,450.0 129.2,451.4 132.4,452.8 135.6,452.5 138.8,451.1 141.9,449.7 145.1,448.4 148.3,447.4 151.5,446.7 154.6,445.9 157.8,445.1 161.0,444.3 164.1,443.5 167.3,442.7 170.5,441.9 173.7,441.1 176.8,440.4 180.0,439.6 183.2,438.8 186.4,438.0 189.5,437.2 192.7,436.4 195.9,435.6 199.0,434.8 202.2,434.0 205.4,433.2 208.6,432.4 211.7,431.5 214.9,430.5 218.1,429.5 221.3,428.5 224.4,427.5 227.6,426.6 230.8,425.8 233.9,425.0 237.1,424.2 240.3,423.4 243.5,422.6 246.6,421.8 249.8,421.0 253.0,420.4 256.2,419.7 259.3,419.1 262.5,418.4 265.7,417.7 268.9,416.9 272.0,416.2 275.2,414.6 278.4,412.7 281.5,410.8 284.7,408.5 287.9,406.1 291.1,403.7 294.2,401.2 297.4,398.7 300.6,396.2 303.8,393.7 306.9,390.9 310.1,388.1 313.3,385.3 316.4,382.6 319.6,380.0 322.8,377.4 326.0,374.9 329.1,372.4 332.3,370.0 335.5,367.9 338.7,365.8 341.8,363.6 345.0,361.5 348.2,359.8 351.4,358.1 354.5,356.4 357.7,354.7 360.9,353.2 364.0,351.9 367.2,350.7 370.4,349.4 373.6,348.2 376.7,346.9 379.9,345.7 383.1,344.5 386.3,343.2 389.4,342.0 392.6,341.3 395.8,340.6 398.9,340.0 402.1,339.3 405.3,338.8 408.5,338.4 411.6,338.0 414.8,337.5 418.0,337.1 421.2,336.7 424.3,336.4 427.5,336.2 430.7,335.9 433.8,335.6 437.0,335.4 440.2,335.1 443.4,334.9 446.5,334.7 449.7,334.6 452.9,334.4 456.1,334.3 459.2,334.1 462.4,333.9 465.6,333.8 468.8,333.8 471.9,333.7 475.1,333.7 478.3,333.7 481.4,333.6 484.6,333.6 487.8,333.5 491.0,333.5 494.1,333.7 497.3,334.0 500.5,334.3 503.7,334.6 506.8,335.0 510.0,335.3 513.2,335.6 516.3,335.9 519.5,336.2 522.7,336.5 525.9,336.9 529.0,337.2 532.2,337.5 535.4,337.9 538.6,338.2 541.7,338.6 544.9,339.0 548.1,339.4 551.2,339.7 554.4,340.1 557.6,340.5 560.8,340.9 563.9,341.2 567.1,341.6 570.3,341.9 573.5,342.2 576.6,342.5 579.8,342.8 583.0,343.1 586.2,343.4 589.3,343.7 592.5,344.3 595.7,345.6 598.2,349.2" fill="none" stroke="none" marker-start="url(#m_dark)" marker-mid="url(#m_dark)" marker-end="url(#m_dark)"/>
<polyline points="602.8,364.5 602.8,364.5" fill="none" stroke="none" marker-start="url(#m_dark)" marker-mid="url(#m_dark)" marker-end="url(#m_dark)"/>
<polyline points="608.5,357.8 611.7,356.9 614.8,356.2 618.0,355.8 621.2,355.8 624.4,355.7 627.5,355.7 630.7,355.7 633.9,355.6 637.1,355.6 640.2,355.8 643.4,356.0 646.6,356.2 649.7,356.4 652.9,356.6 656.1,356.8 659.3,357.0 662.4,357.2 665.6,357.4 668.8,357.7 672.0,357.9 675.1,358.1 678.3,358.4 681.5,358.5 684.7,358.5 687.8,358.5 691.0,358.5 694.2,358.5 697.3,358.5 700.5,358.6 703.7,358.6 706.9,358.6 710.0,358.6 713.2,358.6 716.4,358.6 719.6,358.6 722.7,358.6 725.9,358.6 729.1,358.6 732.2,358.7 735.4,358.7 738.6,358.7 741.8,358.7 744.9,358.7 748.1,358.7 751.3,358.7 754.5,358.8 757.6,358.9 760.8,359.0 764.0,359.1 767.2,359.1 770.3,359.2 773.5,359.3 776.7,359.4 779.8,359.5 783.0,359.5 786.2,359.6 789.4,359.7 792.5,359.8 795.7,359.8 798.9,359.9 802.1,360.0 805.2,360.0 808.4,360.1 811.6,360.1 814.7,360.1 817.9,360.2 821.1,360.2 824.3,360.2 827.4,360.3 830.6,360.3 833.8,360.3 837.0,360.4 840.1,360.4 843.3,360.4 846.5,360.3 849.6,360.3 852.8,360.2 856.0,360.2 859.2,360.1 862.3,360.1 865.5,360.0 868.7,360.0 871.9,359.9 875.0,359.9 878.2,359.8 881.4,359.7 884.6,359.4 887.7,359.2 890.9,358.9 894.1,358.7 897.2,358.4 900.4,358.2 903.6,357.9 906.8,357.6 909.9,357.4 913.1,357.1 916.3,356.8 919.5,356.4 922.6,356.0 925.8,355.6 929.0,355.2 932.1,354.8 935.3,354.4 938.5,354.0 941.7,353.6 944.8,353.2 948.0,352.8 951.2,352.4 954.4,352.0 957.5,351.6 960.7,351.2 963.9,350.8 967.0,350.4 970.2,350.4 973.4,350.4 976.6,350.4 979.7,350.4 982.9,350.4 986.1,350.4 989.3,350.4 992.4,350.4 995.6,350.0 998.8,349.4 1002.0,348.9 1005.1,348.3 1008.3,347.8 1011.5,347.3 1014.6,346.9 1017.8,346.6 1021.0,346.2 1024.2,345.9 1027.3,345.5 1030.5,349.9 1032.1,354.4 1033.8,359.5 1035.1,363.9 1036.7,368.8 1039.9,373.2 1042.4,370.2 1043.4,365.4 1044.5,360.6 1045.6,357.3" fill="none" stroke="none" marker-start="url(#m_dark)" marker-mid="url(#m_dark)" marker-end="url(#m_dark)"/>
<polyline points="1063.2,347.5 1066.4,347.5 1069.5,347.5 1072.7,347.4 1075.9,347.4 1079.1,347.3 1082.2,347.0 1085.4,346.5 1088.6,346.1 1091.8,345.6 1094.9,345.2 1098.1,344.7 1101.3,344.3 1104.4,343.8 1107.6,343.4 1110.8,342.9 1114.0,342.5 1117.1,342.0 1120.3,341.6 1123.5,341.4 1126.7,341.2 1129.8,341.0 1133.0,340.8 1136.2,340.6 1139.4,340.4 1142.5,340.2 1145.7,340.0 1148.9,339.8 1152.0,339.6 1155.2,339.5 1158.4,339.3 1161.6,341.3 1163.6,346.3 1164.9,350.6 1166.2,355.7 1167.5,360.9 1168.8,365.9 1171.3,370.2 1174.5,373.8 1177.7,376.2 1180.8,375.1 1182.1,370.3 1183.2,365.4 1184.0,360.9 1185.6,355.8 1188.8,352.7 1192.0,351.4 1195.2,350.5 1198.3,349.9 1201.5,349.3 1204.7,348.8 1207.9,352.3 1209.2,356.8 1211.2,362.0 1212.8,365.8 1213.9,370.9 1215.2,376.0 1218.3,380.5 1221.5,382.1 1224.7,383.8 1227.8,385.6 1231.0,387.4 1234.2,389.2 1237.4,391.0 1240.5,392.6 1243.7,394.2 1246.9,395.8 1250.1,397.4 1253.2,399.0 1256.4,400.5 1259.6,402.1 1262.7,403.7 1265.9,405.3 1269.1,406.9 1272.3,408.5 1275.4,410.1 1278.6,411.7 1281.8,413.3 1285.0,414.7 1288.1,416.1 1291.3,417.5 1294.5,418.8 1297.6,420.2 1300.8,421.5 1304.0,422.9 1307.2,424.2 1310.3,425.5 1313.5,426.7 1316.7,427.8 1319.9,428.9 1323.0,429.7 1326.2,430.4 1329.4,431.1 1332.6,431.9 1335.7,432.8 1338.9,433.9 1342.1,435.6 1345.2,437.2 1348.4,438.9 1351.6,440.6 1354.8,442.3 1357.9,444.0 1361.1,445.7 1364.3,447.4 1367.5,449.1 1370.6,450.5 1373.8,451.6 1377.0,452.6 1380.1,453.7 1383.3,454.8 1386.5,456.0 1389.7,457.3 1392.8,458.5 1396.0,459.8 1399.2,461.1 1402.4,462.0 1405.5,462.7 1408.7,463.4 1411.9,464.0 1415.0,464.7 1418.2,465.7 1421.4,467.2 1424.6,468.6 1427.7,470.0 1430.9,471.8 1434.1,473.6 1436.4,475.1" fill="none" stroke="none" marker-start="url(#m_dark)" marker-mid="url(#m_dark)" marker-end="url(#m_dark)"/>
<polyline points="1440.8,478.2 1444.0,479.1 1447.1,479.4 1450.3,479.6 1453.5,479.8 1456.7,480.0 1459.8,480.3 1463.0,480.5 1466.2,480.7 1469.4,481.0 1472.5,481.1 1475.7,481.2 1478.9,481.3 1482.0,481.5 1485.2,481.6 1488.4,481.7 1491.6,481.8 1494.7,481.9 1497.9,482.0 1501.1,482.2 1504.3,482.3 1507.4,482.4 1510.6,482.5 1513.8,482.6 1517.0,482.6 1520.1,482.7 1523.3,482.8 1526.5,482.9 1529.6,482.9 1532.8,483.0 1536.0,483.1 1539.2,483.1 1542.3,483.2 1545.5,483.3 1548.7,483.3 1551.9,483.4 1555.0,483.5 1558.2,483.6 1561.4,483.7 1564.5,483.9 1567.7,484.0 1570.9,484.2 1574.1,484.3 1577.2,484.5 1580.4,484.7 1583.6,484.8 1586.8,485.0 1589.9,485.1 1593.1,485.3 1596.3,485.4 1599.5,485.6 1602.6,485.8 1605.8,485.9 1609.0,486.1 1612.1,486.2 1615.3,486.5 1618.5,486.7 1621.7,487.0 1624.8,487.2 1628.0,487.5 1631.2,487.7 1634.4,488.0 1637.5,488.2 1640.7,488.4 1643.9,488.7 1647.0,488.9 1650.2,489.2 1653.4,489.4 1656.6,489.7 1659.7,489.9 1662.9,490.2 1666.1,490.2 1669.3,490.0 1672.4,489.8 1675.6,489.6 1678.8,489.5 1681.9,489.3 1685.1,489.1 1688.3,488.9 1691.5,488.7 1694.6,488.5 1697.8,488.4 1701.0,488.2 1704.2,488.1 1707.3,488.0 1710.5,487.8 1713.7,487.7 1716.9,487.5 1720.0,487.4 1723.2,487.2 1726.4,487.1 1729.5,487.0 1732.7,486.8 1735.9,486.7 1739.1,486.5 1742.2,486.4 1745.4,486.3 1748.6,486.1 1751.8,486.0 1754.9,485.8 1758.1,485.7 1761.3,485.5 1764.4,485.4 1767.6,485.2 1770.8,485.1 1774.0,485.0 1777.1,484.8 1780.3,484.7 1783.5,484.5 1786.7,484.4 1789.8,484.2 1793.0,484.1 1796.2,484.0 1799.3,484.1 1802.5,484.2 1805.7,484.3 1808.9,484.4 1812.0,484.6 1815.2,484.7 1818.4,484.8 1821.6,484.9 1824.7,485.0 1827.9,485.1 1831.1,485.2 1834.3,485.3 1837.4,485.4 1840.6,485.5 1843.8,485.6 1846.9,485.7 1850.1,485.8 1853.3,485.9 1856.5,486.0 1859.6,486.1 1862.8,486.2 1866.0,486.3 1869.2,486.6 1872.3,487.0 1875.5,487.3 1878.7,487.6 1881.8,488.0 1885.0,488.3 1888.2,488.6 1891.4,489.0 1894.5,489.3 1897.7,489.6 1900.9,490.0 1904.1,490.3 1907.2,490.3 1910.4,490.3 1913.6,490.3 1916.8,490.3 1919.9,490.3 1923.1,490.2 1926.3,490.2 1929.4,490.2 1932.6,490.2 1935.8,490.2 1939.0,490.2 1942.1,490.2 1945.3,490.2 1948.5,490.2 1951.7,490.2 1954.8,490.2 1958.0,490.2 1961.2,490.2 1964.3,490.2 1967.5,490.2 1970.7,490.2 1973.9,490.2 1977.0,490.2 1980.2,490.2 1983.4,490.2 1985.0,490.2" fill="none" stroke="none" marker-start="url(#m_dark)" marker-mid="url(#m_dark)" marker-end="url(#m_dark)"/>
<polyline points="106.7,420.0 111.0,432.0 116.0,444.0 122.0,452.0 128.0,457.5 136.0,461.5 145.0,463.3 153.0,463.4 170.0,461.5 190.0,458.0 210.0,453.5 232.0,448.4 255.0,443.0 263.3,439.3 277.0,432.0 290.0,423.0 299.6,416.0 314.0,405.0 328.9,393.0 345.0,381.0 360.3,371.0 380.0,362.5 395.0,359.0 420.0,357.5 441.0,356.9 465.0,356.3 492.0,357.0 532.0,358.8 567.0,360.5 593.0,362.0 598.5,362.4 604.0,365.5 610.0,369.0 615.5,371.0 625.0,371.7 640.0,372.0 680.0,372.7 750.0,373.5 802.0,374.8 840.0,375.3 880.0,375.3 915.0,373.5 950.0,370.0 993.0,366.6 1029.0,362.0 1033.2,362.6 1038.5,364.8 1043.6,367.4 1045.2,368.3 1054.0,368.8 1063.7,367.0 1070.0,366.5 1080.0,365.5 1090.0,364.4 1121.0,360.4 1162.0,357.3 1166.4,358.4 1175.0,364.0 1182.9,369.7 1187.0,371.7 1198.0,370.7 1209.6,369.7 1213.7,370.7 1218.0,374.5 1224.2,380.5 1238.5,388.8 1252.5,395.8 1267.0,403.0 1281.2,410.2 1295.5,416.7 1309.7,424.0 1324.0,430.3 1331.7,434.4 1352.0,447.5 1369.0,458.4 1385.0,462.3 1400.8,466.3 1416.6,468.7 1427.7,475.0 1435.6,478.2 1439.0,481.0 1442.0,482.7 1467.6,484.3 1510.0,486.5 1557.0,486.8 1611.7,489.9 1640.0,491.6 1664.6,493.6 1680.0,492.5 1695.0,491.4 1740.0,489.0 1770.0,487.3 1795.0,486.0 1830.0,487.3 1866.0,489.0 1885.0,491.0 1904.0,493.6 1942.0,493.3 1985.0,493.3" fill="none" stroke="#567a7c" stroke-width="4.14" stroke-linejoin="round" stroke-linecap="round"/>
<polyline points="106.7,420.0 108.3,424.5 109.9,429.1 111.6,433.4 113.6,438.3 115.6,443.1 118.2,446.9 121.3,451.1 124.5,454.3 127.7,457.2 130.9,458.9 134.0,460.5 137.2,461.7 140.4,462.4 143.6,463.0 146.7,463.3 149.9,463.4 153.1,463.4 156.2,463.0 159.4,462.7 162.6,462.3 165.8,462.0 168.9,461.6 172.1,461.1 175.3,460.6 178.5,460.0 181.6,459.5 184.8,458.9 188.0,458.4 191.2,457.7 194.3,457.0 197.5,456.3 200.7,455.6 203.8,454.9 207.0,454.2 210.2,453.5 213.4,452.7 216.5,452.0 219.7,451.2 222.9,450.5 226.1,449.8 229.2,449.0 232.4,448.3 235.6,447.6 238.7,446.8 241.9,446.1 245.1,445.3 248.3,444.6 251.4,443.8 254.6,443.1 257.8,441.8 261.0,440.3 264.1,438.9 267.3,437.2 270.5,435.5 273.7,433.8 276.8,432.1 280.0,429.9 283.2,427.7 286.3,425.5 289.5,423.3 292.7,421.0 295.9,418.7 299.0,416.4 302.2,414.0 305.4,411.6 308.6,409.2 311.7,406.7 314.9,404.3 318.1,401.7 321.2,399.2 324.4,396.6 327.6,394.1 330.8,391.6 333.9,389.2 337.1,386.9 340.3,384.5 343.5,382.2 346.6,379.9 349.8,377.9 353.0,375.8 356.1,373.7 359.3,371.6 362.5,370.1 365.7,368.7 368.8,367.3 372.0,365.9 375.2,364.6 378.4,363.2 381.5,362.1 384.7,361.4 387.9,360.7 391.1,359.9 394.2,359.2 397.4,358.9 400.6,358.7 403.7,358.5 406.9,358.3 410.1,358.1 413.3,357.9 416.4,357.7 419.6,357.5 422.8,357.4 426.0,357.3 429.1,357.2 432.3,357.1 435.5,357.1 438.6,357.0 441.8,356.9 445.0,356.8 448.2,356.7 451.3,356.6 454.5,356.6 457.7,356.5 460.9,356.4 464.0,356.3 467.2,356.4 470.4,356.4 473.5,356.5 476.7,356.6 479.9,356.7 483.1,356.8 486.2,356.9 489.4,356.9 492.6,357.0 495.8,357.2 498.9,357.3 502.1,357.5 505.3,357.6 508.5,357.7 511.6,357.9 514.8,358.0 518.0,358.2 521.1,358.3 524.3,358.5 527.5,358.6 530.7,358.7 533.8,358.9 537.0,359.0 540.2,359.2 543.4,359.4 546.5,359.5 549.7,359.7 552.9,359.8 556.0,360.0 559.2,360.1 562.4,360.3 565.6,360.4 568.7,360.6 571.9,360.8 575.1,361.0 578.3,361.1 581.4,361.3 584.6,361.5 587.8,361.7 591.0,361.9 594.1,362.1 597.3,362.3 600.5,363.5 603.6,365.3 606.8,367.1 610.0,369.0 613.2,370.1 616.3,371.1 619.5,371.3 622.7,371.5 625.9,371.7 629.0,371.8 632.2,371.8 635.4,371.9 638.5,372.0 641.7,372.0 644.9,372.1 648.1,372.1 651.2,372.2 654.4,372.3 657.6,372.3 660.8,372.4 663.9,372.4 667.1,372.5 670.3,372.5 673.4,372.6 676.6,372.6 679.8,372.7 683.0,372.7 686.1,372.8 689.3,372.8 692.5,372.8 695.7,372.9 698.8,372.9 702.0,373.0 705.2,373.0 708.4,373.0 711.5,373.1 714.7,373.1 717.9,373.1 721.0,373.2 724.2,373.2 727.4,373.2 730.6,373.3 733.7,373.3 736.9,373.4 740.1,373.4 743.3,373.4 746.4,373.5 749.6,373.5 752.8,373.6 755.9,373.6 759.1,373.7 762.3,373.8 765.5,373.9 768.6,374.0 771.8,374.0 775.0,374.1 778.2,374.2 781.3,374.3 784.5,374.4 787.7,374.4 790.8,374.5 794.0,374.6 797.2,374.7 800.4,374.8 803.5,374.8 806.7,374.9 809.9,374.9 813.1,374.9 816.2,375.0 819.4,375.0 822.6,375.1 825.8,375.1 828.9,375.2 832.1,375.2 835.3,375.2 838.4,375.3 841.6,375.3 844.8,375.3 848.0,375.3 851.1,375.3 854.3,375.3 857.5,375.3 860.7,375.3 863.8,375.3 867.0,375.3 870.2,375.3 873.3,375.3 876.5,375.3 879.7,375.3 882.9,375.2 886.0,375.0 889.2,374.8 892.4,374.7 895.6,374.5 898.7,374.3 901.9,374.2 905.1,374.0 908.3,373.8 911.4,373.7 914.6,373.5 917.8,373.2 920.9,372.9 924.1,372.6 927.3,372.3 930.5,372.0 933.6,371.6 936.8,371.3 940.0,371.0 943.2,370.7 946.3,370.4 949.5,370.1 952.7,369.8 955.8,369.5 959.0,369.3 962.2,369.0 965.4,368.8 968.5,368.5 971.7,368.3 974.9,368.0 978.1,367.8 981.2,367.5 984.4,367.3 987.6,367.0 990.7,366.8 993.9,366.5 997.1,366.1 1000.3,365.7 1003.4,365.3 1006.6,364.9 1009.8,364.5 1013.0,364.0 1016.1,363.6 1019.3,363.2 1022.5,362.8 1025.7,362.4 1028.8,362.0 1032.0,362.4 1035.2,363.4 1038.3,364.7 1041.5,366.3 1044.7,368.0" fill="none" stroke="none" marker-start="url(#m_teal)" marker-mid="url(#m_teal)" marker-end="url(#m_teal)"/>
<polyline points="1063.7,367.0 1066.9,366.7 1070.0,366.5 1073.2,366.2 1076.4,365.9 1079.6,365.5 1082.7,365.2 1085.9,364.8 1089.1,364.5 1092.3,364.1 1095.4,363.7 1098.6,363.3 1101.8,362.9 1104.9,362.5 1108.1,362.1 1111.3,361.7 1114.5,361.2 1117.6,360.8 1120.8,360.4 1124.0,360.2 1127.2,359.9 1130.3,359.7 1133.5,359.5 1136.7,359.2 1139.9,359.0 1143.0,358.7 1146.2,358.5 1149.4,358.3 1152.5,358.0 1155.7,357.8 1158.9,357.5 1162.1,357.3 1165.2,358.1 1168.4,359.7 1171.6,361.8 1174.8,363.8 1177.9,366.1 1181.1,368.4 1184.3,370.4 1187.4,371.7 1190.6,371.4 1193.8,371.1 1197.0,370.8 1200.1,370.5 1203.3,370.2 1206.5,370.0 1209.7,369.7 1212.8,370.5 1216.0,372.7 1219.2,375.6 1222.4,378.7 1225.5,381.3 1228.7,383.1 1231.9,385.0 1235.0,386.8 1238.2,388.6 1241.4,390.2 1244.6,391.8 1247.7,393.4 1250.9,395.0 1254.1,396.6 1257.3,398.2 1260.4,399.7 1263.6,401.3 1266.8,402.9 1269.9,404.5 1273.1,406.1 1276.3,407.7 1279.5,409.3 1282.6,410.9 1285.8,412.3 1289.0,413.7 1292.2,415.2 1295.3,416.6 1298.5,418.2 1301.7,419.9 1304.8,421.5 1308.0,423.1 1311.2,424.7 1314.4,426.1 1317.5,427.5 1320.7,428.9 1323.9,430.2 1327.1,431.9 1330.2,433.6 1333.4,435.5 1336.6,437.5 1339.8,439.6 1342.9,441.6 1346.1,443.7 1349.3,445.7 1352.4,447.8 1355.6,449.8 1358.8,451.9 1362.0,453.9 1365.1,455.9 1368.3,458.0 1371.5,459.0 1374.7,459.8 1377.8,460.6 1381.0,461.3 1384.2,462.1 1387.3,462.9 1390.5,463.7 1393.7,464.5 1396.9,465.3 1400.0,466.1 1403.2,466.7 1406.4,467.1 1409.6,467.6 1412.7,468.1 1415.9,468.6 1419.1,470.1 1422.2,471.9 1425.4,473.7 1428.6,475.4 1431.8,476.6 1434.9,477.9 1436.4,478.9" fill="none" stroke="none" marker-start="url(#m_teal)" marker-mid="url(#m_teal)" marker-end="url(#m_teal)"/>
<polyline points="1440.8,482.0 1444.0,482.8 1447.1,483.0 1450.3,483.2 1453.5,483.4 1456.7,483.6 1459.8,483.8 1463.0,484.0 1466.2,484.2 1469.4,484.4 1472.5,484.6 1475.7,484.7 1478.9,484.9 1482.0,485.0 1485.2,485.2 1488.4,485.4 1491.6,485.5 1494.7,485.7 1497.9,485.9 1501.1,486.0 1504.3,486.2 1507.4,486.4 1510.6,486.5 1513.8,486.5 1517.0,486.5 1520.1,486.6 1523.3,486.6 1526.5,486.6 1529.6,486.6 1532.8,486.6 1536.0,486.7 1539.2,486.7 1542.3,486.7 1545.5,486.7 1548.7,486.7 1551.9,486.8 1555.0,486.8 1558.2,486.9 1561.4,487.0 1564.5,487.2 1567.7,487.4 1570.9,487.6 1574.1,487.8 1577.2,487.9 1580.4,488.1 1583.6,488.3 1586.8,488.5 1589.9,488.7 1593.1,488.8 1596.3,489.0 1599.5,489.2 1602.6,489.4 1605.8,489.6 1609.0,489.7 1612.1,489.9 1615.3,490.1 1618.5,490.3 1621.7,490.5 1624.8,490.7 1628.0,490.9 1631.2,491.1 1634.4,491.3 1637.5,491.5 1640.7,491.7 1643.9,491.9 1647.0,492.2 1650.2,492.4 1653.4,492.7 1656.6,492.9 1659.7,493.2 1662.9,493.5 1666.1,493.5 1669.3,493.3 1672.4,493.0 1675.6,492.8 1678.8,492.6 1681.9,492.4 1685.1,492.1 1688.3,491.9 1691.5,491.7 1694.6,491.4 1697.8,491.2 1701.0,491.1 1704.2,490.9 1707.3,490.7 1710.5,490.6 1713.7,490.4 1716.9,490.2 1720.0,490.1 1723.2,489.9 1726.4,489.7 1729.5,489.6 1732.7,489.4 1735.9,489.2 1739.1,489.1 1742.2,488.9 1745.4,488.7 1748.6,488.5 1751.8,488.3 1754.9,488.2 1758.1,488.0 1761.3,487.8 1764.4,487.6 1767.6,487.4 1770.8,487.3 1774.0,487.1 1777.1,486.9 1780.3,486.8 1783.5,486.6 1786.7,486.4 1789.8,486.3 1793.0,486.1 1796.2,486.0 1799.3,486.2 1802.5,486.3 1805.7,486.4 1808.9,486.5 1812.0,486.6 1815.2,486.8 1818.4,486.9 1821.6,487.0 1824.7,487.1 1827.9,487.2 1831.1,487.4 1834.3,487.5 1837.4,487.7 1840.6,487.8 1843.8,488.0 1846.9,488.1 1850.1,488.2 1853.3,488.4 1856.5,488.5 1859.6,488.7 1862.8,488.8 1866.0,489.0 1869.2,489.3 1872.3,489.7 1875.5,490.0 1878.7,490.3 1881.8,490.7 1885.0,491.0 1888.2,491.4 1891.4,491.9 1894.5,492.3 1897.7,492.7 1900.9,493.2 1904.1,493.6 1907.2,493.6 1910.4,493.5 1913.6,493.5 1916.8,493.5 1919.9,493.5 1923.1,493.4 1926.3,493.4 1929.4,493.4 1932.6,493.4 1935.8,493.3 1939.0,493.3 1942.1,493.3 1945.3,493.3 1948.5,493.3 1951.7,493.3 1954.8,493.3 1958.0,493.3 1961.2,493.3 1964.3,493.3 1967.5,493.3 1970.7,493.3 1973.9,493.3 1977.0,493.3 1980.2,493.3 1983.4,493.3 1985.0,493.3" fill="none" stroke="none" marker-start="url(#m_teal)" marker-mid="url(#m_teal)" marker-end="url(#m_teal)"/>
<polyline points="106.7,421.0 110.0,433.0 114.5,447.0 119.0,456.0 124.5,462.7 130.0,467.0 135.9,469.8 145.0,471.0 153.0,471.2 165.0,470.3 181.5,468.4 195.0,465.8 210.0,462.7 226.0,457.8 250.0,453.0 271.0,447.3 285.0,442.8 295.4,439.0 310.0,432.5 325.0,424.5 340.6,416.0 355.0,409.0 370.9,402.0 381.2,398.0 395.0,393.5 410.0,391.0 433.0,389.0 471.0,388.3 491.0,388.3 532.0,391.0 567.0,391.8 597.0,391.0 603.0,392.5 610.0,395.3 620.0,396.5 640.0,397.9 680.0,400.7 720.0,402.6 750.0,402.3 802.0,400.5 840.0,399.3 880.0,397.9 915.0,397.0 950.0,395.6 993.0,393.6 1028.0,391.5 1034.0,391.5 1040.0,395.0 1046.0,397.9 1055.0,397.4 1063.0,395.6 1080.0,393.0 1121.0,388.8 1162.0,385.1 1166.0,386.0 1175.0,390.5 1183.0,394.4 1190.0,397.4 1200.0,396.3 1209.6,395.4 1214.0,396.4 1224.2,402.1 1238.5,408.8 1252.5,414.5 1267.0,420.2 1281.2,425.9 1295.5,430.9 1309.7,435.2 1324.0,439.4 1338.2,444.4 1352.3,448.6 1372.9,455.8 1393.5,461.5 1405.0,463.8 1417.7,465.0 1426.6,469.4 1435.4,472.7 1438.5,474.0 1442.0,474.9 1467.6,477.1 1510.0,478.2 1557.0,480.3 1611.7,482.5 1640.0,484.5 1664.6,487.0 1680.0,486.3 1695.0,485.6 1740.0,484.0 1770.0,483.0 1795.0,482.0 1830.0,482.6 1866.0,483.6 1885.0,485.0 1904.0,487.0 1942.0,487.0 1985.0,487.0" fill="none" stroke="#93a71d" stroke-width="4.14" stroke-linejoin="round" stroke-linecap="round"/>
<polyline points="106.7,421.0 108.0,425.7 109.3,430.5 110.6,434.9 112.2,439.9 113.8,445.0 115.9,449.8 117.9,453.8 120.4,457.8 123.6,461.6 126.8,464.5 130.0,467.0 133.1,468.5 136.3,469.9 139.5,470.3 142.7,470.7 145.8,471.0 149.0,471.1 152.2,471.2 155.4,471.0 158.5,470.8 161.7,470.5 164.9,470.3 168.0,469.9 171.2,469.6 174.4,469.2 177.6,468.9 180.7,468.5 183.9,467.9 187.1,467.3 190.3,466.7 193.4,466.1 196.6,465.5 199.8,464.8 202.9,464.2 206.1,463.5 209.3,462.8 212.5,461.9 215.6,461.0 218.8,460.0 222.0,459.0 225.2,458.1 228.3,457.3 231.5,456.7 234.7,456.1 237.8,455.4 241.0,454.8 244.2,454.2 247.4,453.5 250.5,452.9 253.7,452.0 256.9,451.1 260.1,450.3 263.2,449.4 266.4,448.5 269.6,447.7 272.8,446.7 275.9,445.7 279.1,444.7 282.3,443.7 285.4,442.6 288.6,441.5 291.8,440.3 295.0,439.2 298.1,437.8 301.3,436.4 304.5,435.0 307.7,433.5 310.8,432.1 314.0,430.4 317.2,428.7 320.3,427.0 323.5,425.3 326.7,423.6 329.9,421.8 333.0,420.1 336.2,418.4 339.4,416.7 342.6,415.0 345.7,413.5 348.9,412.0 352.1,410.4 355.2,408.9 358.4,407.5 361.6,406.1 364.8,404.7 367.9,403.3 371.1,401.9 374.3,400.7 377.5,399.5 380.6,398.2 383.8,397.1 387.0,396.1 390.2,395.1 393.3,394.0 396.5,393.3 399.7,392.7 402.8,392.2 406.0,391.7 409.2,391.1 412.4,390.8 415.5,390.5 418.7,390.2 421.9,390.0 425.1,389.7 428.2,389.4 431.4,389.1 434.6,389.0 437.7,388.9 440.9,388.9 444.1,388.8 447.3,388.7 450.4,388.7 453.6,388.6 456.8,388.6 460.0,388.5 463.1,388.4 466.3,388.4 469.5,388.3 472.7,388.3 475.8,388.3 479.0,388.3 482.2,388.3 485.3,388.3 488.5,388.3 491.7,388.3 494.9,388.6 498.0,388.8 501.2,389.0 504.4,389.2 507.6,389.4 510.7,389.6 513.9,389.8 517.1,390.0 520.2,390.2 523.4,390.4 526.6,390.6 529.8,390.9 532.9,391.0 536.1,391.1 539.3,391.2 542.5,391.2 545.6,391.3 548.8,391.4 552.0,391.5 555.1,391.5 558.3,391.6 561.5,391.7 564.7,391.7 567.8,391.8 571.0,391.7 574.2,391.6 577.4,391.5 580.5,391.4 583.7,391.4 586.9,391.3 590.1,391.2 593.2,391.1 596.4,391.0 599.6,391.6 602.7,392.4 605.9,393.7 609.1,394.9 612.3,395.6 615.4,396.0 618.6,396.3 621.8,396.6 625.0,396.8 628.1,397.1 631.3,397.3 634.5,397.5 637.6,397.7 640.8,398.0 644.0,398.2 647.2,398.4 650.3,398.6 653.5,398.8 656.7,399.1 659.9,399.3 663.0,399.5 666.2,399.7 669.4,400.0 672.5,400.2 675.7,400.4 678.9,400.6 682.1,400.8 685.2,400.9 688.4,401.1 691.6,401.3 694.8,401.4 697.9,401.6 701.1,401.7 704.3,401.9 707.5,402.0 710.6,402.2 713.8,402.3 717.0,402.5 720.1,402.6 723.3,402.6 726.5,402.5 729.7,402.5 732.8,402.5 736.0,402.4 739.2,402.4 742.4,402.4 745.5,402.3 748.7,402.3 751.9,402.2 755.0,402.1 758.2,402.0 761.4,401.9 764.6,401.8 767.7,401.7 770.9,401.6 774.1,401.5 777.3,401.4 780.4,401.2 783.6,401.1 786.8,401.0 790.0,400.9 793.1,400.8 796.3,400.7 799.5,400.6 802.6,400.5 805.8,400.4 809.0,400.3 812.2,400.2 815.3,400.1 818.5,400.0 821.7,399.9 824.9,399.8 828.0,399.7 831.2,399.6 834.4,399.5 837.5,399.4 840.7,399.3 843.9,399.2 847.1,399.1 850.2,398.9 853.4,398.8 856.6,398.7 859.8,398.6 862.9,398.5 866.1,398.4 869.3,398.3 872.4,398.2 875.6,398.1 878.8,397.9 882.0,397.8 885.1,397.8 888.3,397.7 891.5,397.6 894.7,397.5 897.8,397.4 901.0,397.4 904.2,397.3 907.4,397.2 910.5,397.1 913.7,397.0 916.9,396.9 920.0,396.8 923.2,396.7 926.4,396.5 929.6,396.4 932.7,396.3 935.9,396.2 939.1,396.0 942.3,395.9 945.4,395.8 948.6,395.7 951.8,395.5 954.9,395.4 958.1,395.2 961.3,395.1 964.5,394.9 967.6,394.8 970.8,394.6 974.0,394.5 977.2,394.3 980.3,394.2 983.5,394.0 986.7,393.9 989.8,393.7 993.0,393.6 996.2,393.4 999.4,393.2 1002.5,393.0 1005.7,392.8 1008.9,392.6 1012.1,392.5 1015.2,392.3 1018.4,392.1 1021.6,391.9 1024.8,391.7 1027.9,391.5 1031.1,391.5 1034.3,391.7 1037.4,393.5 1040.6,395.3 1043.8,396.8 1045.2,397.5" fill="none" stroke="none" marker-start="url(#m_green)" marker-mid="url(#m_green)" marker-end="url(#m_green)"/>
<polyline points="1063.7,395.5 1066.9,395.0 1070.0,394.5 1073.2,394.0 1076.4,393.6 1079.6,393.1 1082.7,392.7 1085.9,392.4 1089.1,392.1 1092.3,391.7 1095.4,391.4 1098.6,391.1 1101.8,390.8 1104.9,390.4 1108.1,390.1 1111.3,389.8 1114.5,389.5 1117.6,389.1 1120.8,388.8 1124.0,388.5 1127.2,388.2 1130.3,388.0 1133.5,387.7 1136.7,387.4 1139.9,387.1 1143.0,386.8 1146.2,386.5 1149.4,386.2 1152.5,386.0 1155.7,385.7 1158.9,385.4 1162.1,385.1 1165.2,385.8 1168.4,387.2 1171.6,388.8 1174.8,390.4 1177.9,391.9 1181.1,393.5 1184.3,394.9 1187.4,396.3 1190.6,397.3 1193.8,397.0 1197.0,396.6 1200.1,396.3 1203.3,396.0 1206.5,395.7 1209.7,395.4 1212.8,396.1 1216.0,397.5 1219.2,399.3 1222.4,401.1 1225.5,402.7 1228.7,404.2 1231.9,405.7 1235.0,407.2 1238.2,408.7 1241.4,410.0 1244.6,411.3 1247.7,412.6 1250.9,413.9 1254.1,415.1 1257.3,416.4 1260.4,417.6 1263.6,418.9 1266.8,420.1 1269.9,421.4 1273.1,422.7 1276.3,423.9 1279.5,425.2 1282.6,426.4 1285.8,427.5 1289.0,428.6 1292.2,429.7 1295.3,430.8 1298.5,431.8 1301.7,432.8 1304.8,433.7 1308.0,434.7 1311.2,435.6 1314.4,436.6 1317.5,437.5 1320.7,438.4 1323.9,439.4 1327.1,440.5 1330.2,441.6 1333.4,442.7 1336.6,443.8 1339.8,444.9 1342.9,445.8 1346.1,446.8 1349.3,447.7 1352.4,448.6 1355.6,449.8 1358.8,450.9 1362.0,452.0 1365.1,453.1 1368.3,454.2 1371.5,455.3 1374.7,456.3 1377.8,457.2 1381.0,458.0 1384.2,458.9 1387.3,459.8 1390.5,460.7 1393.7,461.5 1396.9,462.2 1400.0,462.8 1403.2,463.4 1406.4,463.9 1409.6,464.2 1412.7,464.5 1415.9,464.8 1419.1,465.7 1422.2,467.2 1425.4,468.8 1428.6,470.1 1431.8,471.3 1434.9,472.5 1436.4,473.1" fill="none" stroke="none" marker-start="url(#m_green)" marker-mid="url(#m_green)" marker-end="url(#m_green)"/>
<polyline points="1440.8,474.6 1444.0,475.1 1447.1,475.3 1450.3,475.6 1453.5,475.9 1456.7,476.2 1459.8,476.4 1463.0,476.7 1466.2,477.0 1469.4,477.1 1472.5,477.2 1475.7,477.3 1478.9,477.4 1482.0,477.5 1485.2,477.6 1488.4,477.6 1491.6,477.7 1494.7,477.8 1497.9,477.9 1501.1,478.0 1504.3,478.1 1507.4,478.1 1510.6,478.2 1513.8,478.4 1517.0,478.5 1520.1,478.7 1523.3,478.8 1526.5,478.9 1529.6,479.1 1532.8,479.2 1536.0,479.4 1539.2,479.5 1542.3,479.6 1545.5,479.8 1548.7,479.9 1551.9,480.1 1555.0,480.2 1558.2,480.3 1561.4,480.5 1564.5,480.6 1567.7,480.7 1570.9,480.9 1574.1,481.0 1577.2,481.1 1580.4,481.2 1583.6,481.4 1586.8,481.5 1589.9,481.6 1593.1,481.8 1596.3,481.9 1599.5,482.0 1602.6,482.1 1605.8,482.3 1609.0,482.4 1612.1,482.5 1615.3,482.8 1618.5,483.0 1621.7,483.2 1624.8,483.4 1628.0,483.7 1631.2,483.9 1634.4,484.1 1637.5,484.3 1640.7,484.6 1643.9,484.9 1647.0,485.2 1650.2,485.5 1653.4,485.9 1656.6,486.2 1659.7,486.5 1662.9,486.8 1666.1,486.9 1669.3,486.8 1672.4,486.6 1675.6,486.5 1678.8,486.4 1681.9,486.2 1685.1,486.1 1688.3,485.9 1691.5,485.8 1694.6,485.6 1697.8,485.5 1701.0,485.4 1704.2,485.3 1707.3,485.2 1710.5,485.0 1713.7,484.9 1716.9,484.8 1720.0,484.7 1723.2,484.6 1726.4,484.5 1729.5,484.4 1732.7,484.3 1735.9,484.1 1739.1,484.0 1742.2,483.9 1745.4,483.8 1748.6,483.7 1751.8,483.6 1754.9,483.5 1758.1,483.4 1761.3,483.3 1764.4,483.2 1767.6,483.1 1770.8,483.0 1774.0,482.8 1777.1,482.7 1780.3,482.6 1783.5,482.5 1786.7,482.3 1789.8,482.2 1793.0,482.1 1796.2,482.0 1799.3,482.1 1802.5,482.1 1805.7,482.2 1808.9,482.2 1812.0,482.3 1815.2,482.3 1818.4,482.4 1821.6,482.5 1824.7,482.5 1827.9,482.6 1831.1,482.6 1834.3,482.7 1837.4,482.8 1840.6,482.9 1843.8,483.0 1846.9,483.1 1850.1,483.2 1853.3,483.2 1856.5,483.3 1859.6,483.4 1862.8,483.5 1866.0,483.6 1869.2,483.8 1872.3,484.1 1875.5,484.3 1878.7,484.5 1881.8,484.8 1885.0,485.0 1888.2,485.3 1891.4,485.7 1894.5,486.0 1897.7,486.3 1900.9,486.7 1904.1,487.0 1907.2,487.0 1910.4,487.0 1913.6,487.0 1916.8,487.0 1919.9,487.0 1923.1,487.0 1926.3,487.0 1929.4,487.0 1932.6,487.0 1935.8,487.0 1939.0,487.0 1942.1,487.0 1945.3,487.0 1948.5,487.0 1951.7,487.0 1954.8,487.0 1958.0,487.0 1961.2,487.0 1964.3,487.0 1967.5,487.0 1970.7,487.0 1973.9,487.0 1977.0,487.0 1980.2,487.0 1983.4,487.0 1985.0,487.0" fill="none" stroke="none" marker-start="url(#m_green)" marker-mid="url(#m_green)" marker-end="url(#m_green)"/>
<line x1="1089.8" y1="84.4" x2="1089.8" y2="553" stroke="#ff1010" stroke-opacity="0.58" stroke-width="1.35"/>
<g fill="#666666" font-size="16.55px">
<text x="92.2" y="89.5" text-anchor="end">60</text>
<text x="92.2" y="156.4" text-anchor="end">50</text>
<text x="92.2" y="223.4" text-anchor="end">40</text>
<text x="92.2" y="290.3" text-anchor="end">30</text>
<text x="92.2" y="357.2" text-anchor="end">20</text>
<text x="92.2" y="424.2" text-anchor="end">10</text>
<text x="92.2" y="491.1" text-anchor="end">0</text>
<text x="92.2" y="558.1" text-anchor="end">-10</text>
<text x="186.7" y="582.8" text-anchor="middle">13/12</text>
<text x="339.0" y="582.8" text-anchor="middle">14/12</text>
<text x="491.3" y="582.8" text-anchor="middle">15/12</text>
<text x="643.6" y="582.8" text-anchor="middle">16/12</text>
<text x="795.9" y="582.8" text-anchor="middle">17/12</text>
<text x="948.2" y="582.8" text-anchor="middle">18/12</text>
<text x="1100.5" y="582.8" text-anchor="middle">19/12</text>
<text x="1252.8" y="582.8" text-anchor="middle">20/12</text>
<text x="1405.1" y="582.8" text-anchor="middle">21/12</text>
<text x="1557.4" y="582.8" text-anchor="middle">22/12</text>
<text x="1709.7" y="582.8" text-anchor="middle">23/12</text>
<text x="1862.0" y="582.8" text-anchor="middle">24/12</text>
<text x="2014.3" y="582.8" text-anchor="middle">25/12</text>
<text transform="translate(53.8,318.6) rotate(-90)" text-anchor="middle">C</text>
</g>
<rect x="186.05" y="54.25" width="55.10" height="16.50" fill="#e5e5e5" stroke="#93a71d" stroke-width="4.1"/>
<text x="249.2" y="68.3" fill="#666666" font-size="16.55px" textLength="152.9" lengthAdjust="spacing">28D20749F6803CF8</text>
<rect x="416.25" y="54.25" width="55.10" height="16.50" fill="#e5e5e5" stroke="#567a7c" stroke-width="4.1"/>
<text x="479.4" y="68.3" fill="#666666" font-size="16.55px" textLength="152.5" lengthAdjust="spacing">2832A781E3283C20</text>
<rect x="645.65" y="54.25" width="55.10" height="16.50" fill="#e5e5e5" stroke="#1e0533" stroke-width="4.1"/>
<text x="709.0" y="68.3" fill="#666666" font-size="16.55px" textLength="156.3" lengthAdjust="spacing">2836F881E32C3C3D</text>
<rect x="879.15" y="54.25" width="55.10" height="16.50" fill="#e5e5e5" stroke="#a795f4" stroke-width="4.1"/>
<text x="942.4" y="68.3" fill="#666666" font-size="16.55px" textLength="152.9" lengthAdjust="spacing">28A97F49F6F33C28</text>
<rect x="1108.85" y="54.25" width="55.10" height="16.50" fill="#e5e5e5" stroke="#a67a0a" stroke-width="4.1"/>
<text x="1172.1" y="68.3" fill="#666666" font-size="16.55px" textLength="155.4" lengthAdjust="spacing">281B2B49F6693CEF</text>
<rect x="1341.35" y="54.25" width="55.10" height="16.50" fill="#e5e5e5" stroke="#ff0000" stroke-width="4.1" stroke-dasharray="6.9 6.9"/>
<text x="1405.0" y="68.3" fill="#666666" font-size="16.55px" letter-spacing="0.09">Maximum temperature alert</text>
<rect x="1622.85" y="54.25" width="55.10" height="16.50" fill="#e5e5e5" stroke="#0000ff" stroke-width="4.1" stroke-dasharray="6.9 6.9"/>
<text x="1686.4" y="68.3" fill="#666666" font-size="16.55px" letter-spacing="0.09">Minimum temperature alert</text>
<path d="M234.2,313.4 H484.3 Q491.3,313.4 491.3,320.4 V373.6 L498.2,380.5 L491.3,387.4 V441.1 Q491.3,448.1 484.3,448.1 H234.2 Q227.2,448.1 227.2,441.1 V320.4 Q227.2,313.4 234.2,313.4 Z" fill="#000" fill-opacity="0.75"/>
<text x="235.3" y="337.4" fill="#fff" font-weight="bold" font-size="16.55px" textLength="203.7" lengthAdjust="spacing">Dec 18, 2023, 10:30:00 pm</text>
<rect x="234.1" y="350.90" width="18.0" height="17.6" fill="#fff"/>
<rect x="234.7" y="351.50" width="16.8" height="16.4" fill="#e2e2e2" stroke="#93a71d" stroke-width="1.2"/>
<text x="253.4" y="365.30" fill="#fff" font-size="16.55px">28D20749F6803CF8: 14.067 C</text>
<rect x="234.1" y="373.52" width="18.0" height="17.6" fill="#fff"/>
<rect x="234.7" y="374.12" width="16.8" height="16.4" fill="#e2e2e2" stroke="#567a7c" stroke-width="1.2"/>
<text x="253.4" y="387.92" fill="#fff" font-size="16.55px">2832A781E3283C20: 18.2 C</text>
<rect x="234.1" y="396.14" width="18.0" height="17.6" fill="#fff"/>
<rect x="234.7" y="396.74" width="16.8" height="16.4" fill="#e2e2e2" stroke="#1e0533" stroke-width="1.2"/>
<text x="253.4" y="410.54" fill="#fff" font-size="16.55px">2836F881E32C3C3D: 20.967 C</text>
<rect x="234.1" y="418.76" width="18.0" height="17.6" fill="#fff"/>
<rect x="234.7" y="419.36" width="16.8" height="16.4" fill="#e2e2e2" stroke="#a795f4" stroke-width="1.2"/>
<text x="253.4" y="433.16" fill="#fff" font-size="16.55px">28A97F49F6F33C28: 13.7 C</text>
<rect x="234.1" y="441.38" width="18.0" height="17.6" fill="#fff"/>
<rect x="234.7" y="441.98" width="16.8" height="16.4" fill="#e2e2e2" stroke="#a67a0a" stroke-width="1.2"/>
<text x="253.4" y="455.78" fill="#fff" font-size="16.55px">281B2B49F6693CEF: 15.9 C</text>
<line x1="664.0" y1="166.5" x2="620.2" y2="312.3" stroke="#e33b2f" stroke-width="7.4" stroke-linecap="round"/>
<path d="M609.9,346.2 L599.7,290.7 L618.5,304.9 L625.3,308.2 L648.8,304.6 Z" fill="#e33b2f"/>
<line x1="1090.0" y1="174.5" x2="1057.1" y2="316.1" stroke="#e33b2f" stroke-width="7.4" stroke-linecap="round"/>
<path d="M1049.2,350.5 L1035.4,296.1 L1054.9,309.2 L1062.0,311.3 L1085.2,307.1 Z" fill="#e33b2f"/>
<line x1="1228.3" y1="148.0" x2="1188.3" y2="309.3" stroke="#e33b2f" stroke-width="7.4" stroke-linecap="round"/>
<path d="M1179.5,344.4 L1167.1,288.8 L1186.3,302.5 L1193.2,304.5 L1216.5,301.1 Z" fill="#e33b2f"/>
</svg>
<svg width="2048" height="632" viewBox="0 0 2048 632">
<text transform="translate(33.1,17.2) scale(0.8,1)" font-size="42px" fill="#212529" stroke="#212529" stroke-width="0.35" text-anchor="middle">E</text>
<text x="53.6 76.1 93.7 111.0 130.6 143.8 161.5 185.5 218.0 236.2 259.0 277.5 306.5 338.4 363.2 382.4 396.5 414.1 434.1 456.4 470.5" y="17.2" font-size="42px" fill="#212529" stroke="#212529" stroke-width="0.35" text-anchor="middle">volutionoftemperature</text>
<text transform="translate(33.5,633.6) scale(0.8,1)" font-size="42px" fill="#007bff" stroke="#007bff" stroke-width="0.35" text-anchor="middle">E</text>
<text x="54.0 76.5 94.1 111.5 131.0 144.2 161.9 185.9 218.2 237.0 267.9 294.3 315.1 333.6 353.3 376.6 396.4" y="633.6" font-size="42px" fill="#007bff" stroke="#007bff" stroke-width="0.35" text-anchor="middle">volutionofweather</text>
</svg>
</body></html>
